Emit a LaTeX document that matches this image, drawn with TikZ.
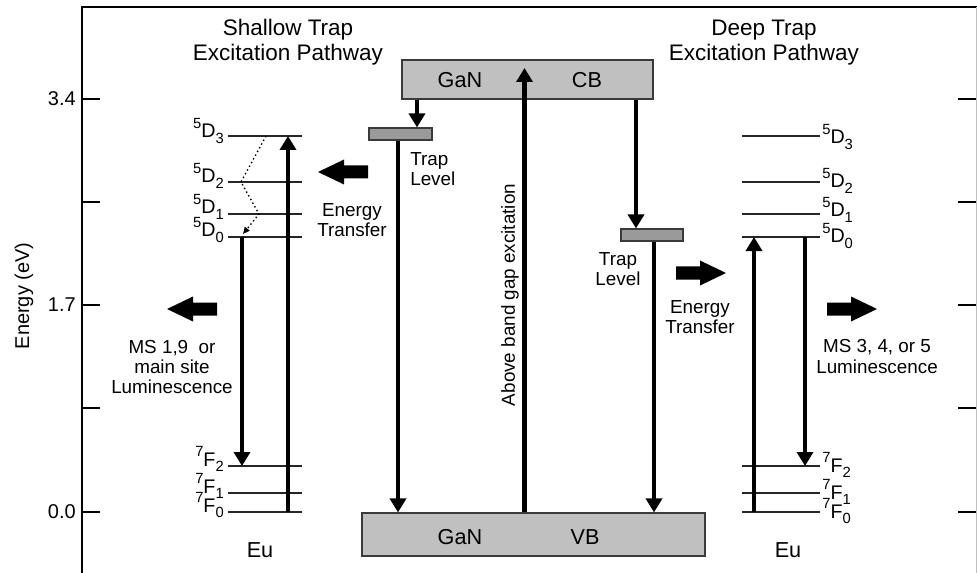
\documentclass[tikz,border=0pt]{standalone}
\usepackage{fontspec}
\setmainfont{Liberation Sans}
\usetikzlibrary{arrows.meta}
\definecolor{colBand}{HTML}{C0C0C0}
\definecolor{colTrap}{HTML}{9A9A9A}
\definecolor{colEdge}{HTML}{3A3A3A}
\def\ttlfont{\fontsize{16pt}{17.8pt}\selectfont}
\def\bndfont{\fontsize{15.4pt}{18pt}\selectfont}
\def\axfont{\fontsize{14.2pt}{16pt}\selectfont}
\def\txtfont{\fontsize{13.4pt}{14.3pt}\selectfont}
\def\lvlfont{\fontsize{14pt}{16pt}\selectfont}
\def\supfont{\fontsize{10.5pt}{11pt}\selectfont}
\newcommand{\term}[3]{\raisebox{0.5em}{\supfont #1}#2\raisebox{-0.28em}{\supfont #3}}
\newcommand{\eulevel}[4]{%
  \draw[lvl] (#2,#4) coordinate (#1) -- (#3,#4) coordinate (#1e);}
\newcommand{\fatarrow}[3]{%
  \begin{scope}[shift={(#1,#2)}, xscale=#3]
  \fill[black] (0,0) -- (-0.65,0.3125) -- (-0.65,0.1625) -- (-1.25,0.1625)
    -- (-1.25,-0.1625) -- (-0.65,-0.1625) -- (-0.65,-0.3125) -- cycle;
  \end{scope}}
\tikzset{
  lvl/.style={draw=black!85, line width=0.9pt},
  bigarrow/.style={line width=3pt, -{Triangle[length=0.35cm,width=0.4cm]}},
  dotarrow/.style={line width=1pt, dotted, -{Triangle[length=0.17cm,width=0.15cm]}},
  band/.style={draw=colEdge, fill=colBand, line width=0.8pt, inner sep=0pt},
  trap/.style={draw=colEdge, fill=colTrap, line width=0.8pt, inner sep=0pt, minimum height=0.3cm},
  axtick/.style={line width=0.9pt}
}

\begin{document}
\begin{tikzpicture}
\useasboundingbox (0,0) rectangle (24.425,-14.325);

% ===================== FRAME AND ENERGY AXIS =====================
\draw[line width=1.4pt] (2.05,-14.325) -- (2.05,-0.175) -- (24.425,-0.175);
\draw[draw=black!25, line width=0.6pt] (24.4,-0.175) -- (24.4,-14.325);
\foreach \y in {-2.475,-5.05,-7.625,-10.2,-12.8} {
  \draw[axtick] (2.05,\y) -- (2.5,\y);
  \draw[axtick] (23.95,\y) -- (24.4,\y);
}
\node[anchor=east, font=\axfont, inner sep=0pt] (t34) at (1.9,-2.475) {3.4};
\node[anchor=east, font=\axfont, inner sep=0pt] (t17) at (1.9,-7.625) {1.7};
\node[anchor=east, font=\axfont, inner sep=0pt] (t00) at (1.9,-12.8) {0.0};
\node[rotate=90, font=\axfont] (eaxis) at (0.6,-7.4) {Energy (eV)};

\node[font=\ttlfont, align=center] (ttlS) at (7.2,-1.0625) {Shallow Trap\\Excitation Pathway};
\node[font=\ttlfont, align=center] (ttlD) at (19.1,-1.0625) {Deep Trap\\Excitation Pathway};

% ===================== GaN BANDS AND TRAPS =====================
\node[band, minimum width=6.275cm, minimum height=0.975cm] (cb) at (13.1875,-1.9875) {};
\node[font=\bndfont] (cbG) at (11.5,-2.0) {GaN};
\node[font=\bndfont] (cbC) at (14.675,-2.0) {CB};
\node[band, minimum width=8.575cm, minimum height=1.075cm] (vb) at (13.3375,-13.3625) {};
\node[font=\bndfont] (vbG) at (11.5,-13.425) {GaN};
\node[font=\bndfont] (vbV) at (14.625,-13.425) {VB};

\node[trap, minimum width=1.575cm] (trapS) at (10.0125,-3.35) {};
\node[trap, minimum width=1.55cm] (trapD) at (16.3,-5.875) {};

\path ([xshift=0.4125cm]trapS.north) coordinate (sIn);
\path ([xshift=-0.0625cm]trapS.south) coordinate (sOut);
\path ([xshift=-0.4cm]trapD.north) coordinate (dIn);
\path ([xshift=0.05cm]trapD.south) coordinate (dOut);
\coordinate (exTop) at (13.1125,-1.7);

\draw[bigarrow] (sIn |- cb.south) -- (sIn);
\draw[bigarrow] (sOut) -- (sOut |- vb.north);
\draw[bigarrow] (dIn |- cb.south) -- (dIn);
\draw[bigarrow] (dOut) -- (dOut |- vb.north);
\draw[bigarrow] (exTop |- vb.north) -- (exTop);

\node[font=\txtfont, rotate=90] (exc) at (12.75,-7.375) {Above band gap excitation};
\node[font=\txtfont, align=left, anchor=west, inner sep=0pt] (tlS) at (10.25,-4.225) {Trap\\Level};
\node[font=\txtfont, align=center] (tlD) at (15.45,-6.725) {Trap\\Level};

% ===================== SHALLOW SIDE: Eu LEVELS =====================
\eulevel{sD3}{5.7}{7.55}{-3.4}
\eulevel{sD2}{5.7}{7.55}{-4.55}
\eulevel{sD1}{5.7}{7.55}{-5.35}
\eulevel{sD0}{5.7}{7.55}{-5.925}
\eulevel{sF2}{5.7}{7.55}{-11.65}
\eulevel{sF1}{5.7}{7.55}{-12.325}
\eulevel{sF0}{5.7}{7.55}{-12.8}

\node[anchor=base east, font=\lvlfont, inner sep=0pt] (lsD3) at (5.6,-3.45) {\term{5}{D}{3}};
\node[anchor=base east, font=\lvlfont, inner sep=0pt] (lsD2) at (5.6,-4.575) {\term{5}{D}{2}};
\node[anchor=base east, font=\lvlfont, inner sep=0pt] (lsD1) at (5.6,-5.35) {\term{5}{D}{1}};
\node[anchor=base east, font=\lvlfont, inner sep=0pt] (lsD0) at (5.6,-5.925) {\term{5}{D}{0}};
\node[anchor=base east, font=\lvlfont, inner sep=0pt] (lsF2) at (5.6,-11.65) {\term{7}{F}{2}};
\node[anchor=base east, font=\lvlfont, inner sep=0pt] (lsF1) at (5.6,-12.325) {\term{7}{F}{1}};
\node[anchor=base east, font=\lvlfont, inner sep=0pt] (lsF0) at (5.6,-12.8) {\term{7}{F}{0}};

\draw[bigarrow] ([xshift=0.35cm]sD0) -- ([xshift=0.35cm]sF2);
\draw[bigarrow] ([xshift=1.5cm]sF0) -- ([xshift=1.5cm]sD3);
\draw[dotarrow] ([xshift=0.95cm]sD3) -- ([xshift=0.325cm]sD2) -- ([xshift=0.775cm]sD1)
  -- ([xshift=0.375cm,yshift=0.075cm]sD0);

\fatarrow{7.95}{-4.3}{-1}
\node[font=\txtfont, align=center] (etS) at (8.8,-5.5) {Energy\\Transfer};
\fatarrow{4.175}{-7.725}{-1}
\node[font=\txtfont, align=center] (msS) at (4.3,-9.175) {MS 1,9\ \ or\\main site\\Luminescence};
\node[font=\bndfont] (euS) at (6.5,-13.75) {Eu};

% ===================== DEEP SIDE: Eu LEVELS =====================
\eulevel{dD3}{18.55}{20.5}{-3.4}
\eulevel{dD2}{18.55}{20.5}{-4.55}
\eulevel{dD1}{18.55}{20.5}{-5.35}
\eulevel{dD0}{18.55}{20.5}{-5.925}
\eulevel{dF2}{18.55}{20.5}{-11.65}
\eulevel{dF1}{18.55}{20.5}{-12.325}
\eulevel{dF0}{18.55}{20.5}{-12.8}

\node[anchor=base west, font=\lvlfont, inner sep=0pt] (ldD3) at (20.55,-3.6) {\term{5}{D}{3}};
\node[anchor=base west, font=\lvlfont, inner sep=0pt] (ldD2) at (20.55,-4.7) {\term{5}{D}{2}};
\node[anchor=base west, font=\lvlfont, inner sep=0pt] (ldD1) at (20.55,-5.425) {\term{5}{D}{1}};
\node[anchor=base west, font=\lvlfont, inner sep=0pt] (ldD0) at (20.55,-6.075) {\term{5}{D}{0}};
\node[anchor=base west, font=\lvlfont, inner sep=0pt] (ldF2) at (20.55,-11.8) {\term{7}{F}{2}};
\node[anchor=base west, font=\lvlfont, inner sep=0pt] (ldF1) at (20.55,-12.475) {\term{7}{F}{1}};
\node[anchor=base west, font=\lvlfont, inner sep=0pt] (ldF0) at (20.55,-12.95) {\term{7}{F}{0}};

\draw[bigarrow] ([xshift=0.3cm]dF0) -- ([xshift=0.3cm]dD0);
\draw[bigarrow] ([xshift=1.575cm]dD0) -- ([xshift=1.575cm]dF2);

\fatarrow{18.15}{-6.825}{1}
\node[font=\txtfont, align=center] (etD) at (17.5,-7.925) {Energy\\Transfer};
\fatarrow{21.925}{-7.725}{1}
\node[font=\txtfont, align=center] (msD) at (21.925,-8.9125) {MS 3, 4, or 5\\Luminescence};
\node[font=\bndfont] (euD) at (19.7,-13.75) {Eu};
\end{tikzpicture}
\end{document}
